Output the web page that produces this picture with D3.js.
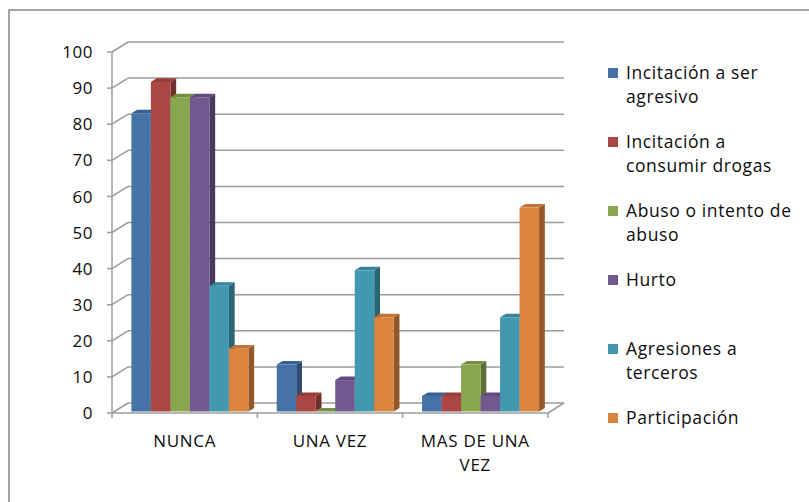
<!DOCTYPE html>
<html>
<head>
<meta charset="utf-8">
<script src="https://cdn.jsdelivr.net/npm/d3@7"></script>
<style>
  body { margin: 0; background: #fff; }
  text { font-family: "Open Sans", sans-serif; fill: #0d0d0d; }
</style>
</head>
<body>
<div id="chart"></div>
<script>
var categories = ["NUNCA", "UNA VEZ", "MAS DE UNA VEZ"];
var series = ["Incitación a ser agresivo", "Incitación a consumir drogas", "Abuso o intento de abuso",
              "Hurto", "Agresiones a terceros", "Participación"];
var agresivo = [82.6, 13.0, 4.3];
var drogas = [91.3, 4.3, 4.3];
var abuso = [87.0, 0, 13.0];
var hurto = [87.0, 8.7, 4.3];
var agresiones = [34.8, 39.1, 26.1];
var participacion = [17.4, 26.1, 56.5];
var yTicks = [0, 10, 20, 30, 40, 50, 60, 70, 80, 90, 100];

var values = [agresivo, drogas, abuso, hurto, agresiones, participacion];
var catLines = [["NUNCA"], ["UNA VEZ"], ["MAS DE UNA", "VEZ"]];
var legendLines = [["Incitación a ser", "agresivo"], ["Incitación a", "consumir drogas"],
                   ["Abuso o intento de", "abuso"], ["Hurto"], ["Agresiones a", "terceros"], ["Participación"]];

var front = ["#4572A7", "#AA4643", "#89A54E", "#71588F", "#4198AF", "#DB843D"];
var side  = ["#2E4B70", "#72302D", "#5C6F34", "#4B3A60", "#2B6575", "#925828"];
var top_  = ["#3A6193", "#963C39", "#768F44", "#604B7C", "#35859A", "#C4733A"];

var svgWidth = 809, svgHeight = 502;
var depth = {dx: 16, dy: -10};
var barFront = 0.15, barDepth = 0.36;

var svg = d3.select("#chart").append("svg")
    .attr("width", svgWidth).attr("height", svgHeight);

svg.append("rect").attr("width", svgWidth).attr("height", svgHeight).attr("fill", "#fff");
svg.append("rect").attr("x", 9).attr("y", 10).attr("width", 820).attr("height", 520)
    .attr("fill", "none").attr("stroke", "#878787").attr("stroke-width", 1.5);

var x = d3.scaleBand().domain(categories).range([112, 548]).padding(0);
var inner = d3.scaleBand().domain(series).range([17, 134]).padding(0);
var y = d3.scaleLinear().domain([0, 100]).range([413, 52]);

var grid = svg.append("g").attr("stroke", "#9c9c9c").attr("stroke-width", 1.5).attr("fill", "none");

// back wall gridlines + side wall lines + ticks
yTicks.forEach(t => {
    grid.append("line")
        .attr("x1", x.range()[0] + depth.dx).attr("x2", x.range()[1] + depth.dx)
        .attr("y1", y(t) + depth.dy).attr("y2", y(t) + depth.dy);
    grid.append("line")
        .attr("x1", x.range()[0]).attr("x2", x.range()[0] + depth.dx)
        .attr("y1", y(t)).attr("y2", y(t) + depth.dy);
    grid.append("line")
        .attr("x1", x.range()[0] - 5).attr("x2", x.range()[0])
        .attr("y1", y(t)).attr("y2", y(t));
});
grid.append("line")
    .attr("x1", x.range()[0]).attr("x2", x.range()[0])
    .attr("y1", y(100)).attr("y2", y(0));
// floor
grid.append("line")
    .attr("x1", x.range()[0]).attr("x2", x.range()[1])
    .attr("y1", y(0)).attr("y2", y(0));
grid.append("line")
    .attr("x1", x.range()[1]).attr("x2", x.range()[1] + depth.dx)
    .attr("y1", y(0)).attr("y2", y(0) + depth.dy);
// category ticks
x.domain().concat(["end"]).forEach((c, i) => {
    var xx = i < categories.length ? x(c) : x.range()[1];
    grid.append("line").attr("x1", xx).attr("x2", xx)
        .attr("y1", y(0)).attr("y2", y(0) + 5);
});

// y tick labels
svg.append("g").selectAll("text").data(yTicks).enter().append("text")
    .attr("x", 93).attr("y", d => y(d)).attr("dy", "0.36em")
    .attr("text-anchor", "end").attr("font-size", 17).attr("letter-spacing", 0.5).text(d => d);

// bars
var fx = barFront * depth.dx, fy = barFront * depth.dy;
var bx = barDepth * depth.dx, by = barDepth * depth.dy;
var bars = svg.append("g");
categories.forEach((c, ci) => {
    series.forEach((s, si) => {
        var v = values[si][ci];
        var x0 = x(c) + inner(s) + fx, x1 = x0 + inner.bandwidth();
        var yb = y(0) + fy, yt = y(v) + fy;
        var g = bars.append("g");
        g.append("polygon").attr("fill", side[si])
            .attr("points", [[x1, yb], [x1 + bx, yb + by], [x1 + bx, yt + by], [x1, yt]].join(" "));
        g.append("polygon").attr("fill", top_[si])
            .attr("points", [[x0, yt], [x0 + bx, yt + by], [x1 + bx, yt + by], [x1, yt]].join(" "));
        if (v > 0) {
            g.append("rect").attr("fill", front[si])
                .attr("x", x0).attr("y", yt).attr("width", inner.bandwidth()).attr("height", yb - yt);
        }
    });
});

// category labels
categories.forEach((c, ci) => {
    var t = svg.append("text").attr("text-anchor", "middle").attr("font-size", 17)
        .attr("letter-spacing", 0.7);
    catLines[ci].forEach((line, li) => {
        t.append("tspan").attr("x", x(c) + x.bandwidth() / 2).attr("y", 447 + li * 24).text(line);
    });
});

// legend
var legend = svg.append("g");
series.forEach((s, si) => {
    var cy = 73 + si * 69;
    legend.append("rect").attr("x", 608).attr("y", cy - 5).attr("width", 10).attr("height", 10)
        .attr("fill", front[si]);
    var t = legend.append("text").attr("font-size", 17.5).attr("letter-spacing", 0.6);
    legendLines[si].forEach((line, li) => {
        t.append("tspan").attr("x", 626).attr("y", cy + 6 + li * 23.5).text(line);
    });
});
</script>
</body>
</html>
